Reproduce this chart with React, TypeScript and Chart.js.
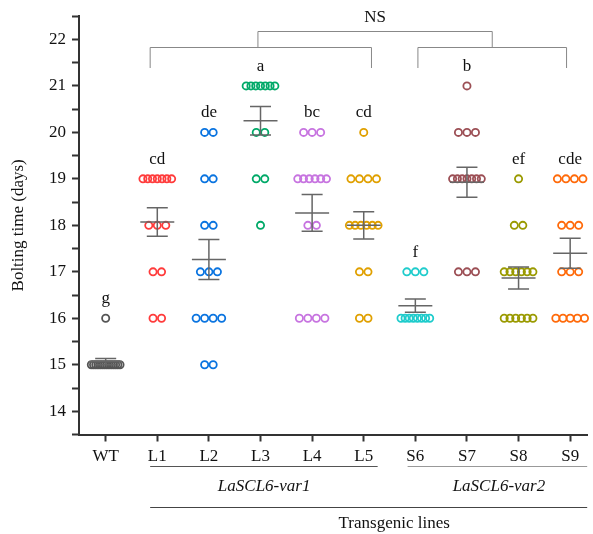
import React, { useEffect, useRef } from 'react';
import { Chart, registerables } from 'chart.js';
Chart.register(...registerables);

const categories = ['WT', 'L1', 'L2', 'L3', 'L4', 'L5', 'S6', 'S7', 'S8', 'S9'];
const colors = ['#555555', '#ff3b3b', '#0a74e0', '#00a968', '#c774e0', '#e0a000', '#1fcccc', '#9c4f55', '#9a9a00', '#ff6a0a'];
const letters = ['g', 'cd', 'de', 'a', 'bc', 'cd', 'f', 'b', 'ef', 'cde'];

const wtValues = [16, 15, 15, 15, 15, 15, 15, 15, 15, 15, 15, 15, 15, 15, 15];
const l1Values = [19, 19, 19, 19, 19, 19, 19, 18, 18, 18, 17, 17, 16, 16];
const l2Values = [20, 20, 19, 19, 18, 18, 17, 17, 17, 16, 16, 16, 16, 15, 15];
const l3Values = [21, 21, 21, 21, 21, 21, 21, 20, 20, 19, 19, 18];
const l4Values = [20, 20, 20, 19, 19, 19, 19, 19, 19, 18, 18, 16, 16, 16, 16];
const l5Values = [20, 19, 19, 19, 19, 18, 18, 18, 18, 18, 18, 17, 17, 16, 16];
const s6Values = [17, 17, 17, 16, 16, 16, 16, 16, 16, 16, 16];
const s7Values = [21, 20, 20, 20, 19, 19, 19, 19, 19, 19, 19, 17, 17, 17];
const s8Values = [19, 18, 18, 17, 17, 17, 17, 17, 17, 16, 16, 16, 16, 16, 16];
const s9Values = [19, 19, 19, 19, 18, 18, 18, 17, 17, 17, 16, 16, 16, 16, 16];
const groups = [wtValues, l1Values, l2Values, l3Values, l4Values, l5Values, s6Values, s7Values, s8Values, s9Values];

const yTickLabels = ['14', '15', '16', '17', '18', '19', '20', '21', '22'];

const FONT = '"Liberation Serif", "Times New Roman", serif';
const X_MIN = -0.517;
const X_MAX = 9.33;
const PX_PER_CAT = 52.2;

function swarm(values: number[], idx: number) {
  const rows = new Map<number, number>();
  values.forEach((v) => rows.set(v, (rows.get(v) || 0) + 1));
  const seen = new Map<number, number>();
  return values.map((v) => {
    const k = rows.get(v) || 1;
    const i = seen.get(v) || 0;
    seen.set(v, i + 1);
    const s = k > 1 ? Math.min(8.6, 29 / (k - 1)) : 0;
    const off = (i - (k - 1) / 2) * s;
    return { x: idx + off / PX_PER_CAT, y: v };
  });
}

function stats(values: number[]) {
  const n = values.length;
  const m = values.reduce((a, b) => a + b, 0) / n;
  const sd = Math.sqrt(values.reduce((a, b) => a + (b - m) * (b - m), 0) / (n - 1));
  return { mean: m, sem: sd / Math.sqrt(n) };
}

const annotPlugin = {
  id: 'annot',
  afterDatasetsDraw(chart: any) {
    const ctx = chart.ctx;
    const xs = chart.scales.x;
    const ys = chart.scales.y;
    const ca = chart.chartArea;
    ctx.save();
    // mean and SEM
    groups.forEach((vals, i) => {
      const { mean, sem } = stats(vals);
      const cx = xs.getPixelForValue(i);
      const ym = ys.getPixelForValue(mean);
      const yt = ys.getPixelForValue(mean + sem);
      const yb = ys.getPixelForValue(mean - sem);
      ctx.strokeStyle = '#666666';
      ctx.lineWidth = 1.5;
      ctx.beginPath();
      ctx.moveTo(cx - 17, ym); ctx.lineTo(cx + 17, ym);
      ctx.moveTo(cx - 10.5, yt); ctx.lineTo(cx + 10.5, yt);
      ctx.moveTo(cx - 10.5, yb); ctx.lineTo(cx + 10.5, yb);
      ctx.moveTo(cx, yt); ctx.lineTo(cx, yb);
      ctx.stroke();
      // letters
      const maxV = Math.max(...vals);
      ctx.fillStyle = '#111';
      ctx.font = `17px ${FONT}`;
      ctx.textAlign = 'center';
      ctx.textBaseline = 'middle';
      ctx.fillText(letters[i], cx, ys.getPixelForValue(maxV + 0.42));
    });
    // brackets
    const px = (v: number) => xs.getPixelForValue(v);
    ctx.strokeStyle = '#888888';
    ctx.lineWidth = 1;
    const yTop = 31.5, yBr = 47.5, yEnd = 68;
    const l0 = 0.862, l1 = 5.15, lc = 2.95;
    const r0 = 6.05, r1 = 8.93, rc = 7.49;
    ctx.beginPath();
    ctx.moveTo(px(l0), yEnd); ctx.lineTo(px(l0), yBr); ctx.lineTo(px(l1), yBr); ctx.lineTo(px(l1), yEnd);
    ctx.moveTo(px(r0), yEnd); ctx.lineTo(px(r0), yBr); ctx.lineTo(px(r1), yBr); ctx.lineTo(px(r1), yEnd);
    ctx.moveTo(px(lc), yBr); ctx.lineTo(px(lc), yTop); ctx.lineTo(px(rc), yTop); ctx.lineTo(px(rc), yBr);
    ctx.stroke();
    ctx.fillStyle = '#111';
    ctx.font = `17px ${FONT}`;
    ctx.textAlign = 'center';
    ctx.textBaseline = 'middle';
    ctx.fillText('NS', (px(lc) + px(rc)) / 2, 18);
    // bottom group annotations
    ctx.lineWidth = 1;
    ctx.strokeStyle = '#555555';
    ctx.beginPath();
    ctx.moveTo(px(0.862), 466.5); ctx.lineTo(px(5.27), 466.5);
    ctx.stroke();
    ctx.strokeStyle = '#999999';
    ctx.beginPath();
    ctx.moveTo(px(5.85), 466.5); ctx.lineTo(ca.right, 466.5);
    ctx.stroke();
    ctx.strokeStyle = '#444444';
    ctx.beginPath();
    ctx.moveTo(px(0.862), 507.5); ctx.lineTo(ca.right, 507.5);
    ctx.stroke();
    ctx.font = `italic 17px ${FONT}`;
    ctx.fillText('LaSCL6-var1', px(3.07), 487);
    ctx.fillText('LaSCL6-var2', px(7.62), 487);
    ctx.font = `17px ${FONT}`;
    ctx.fillText('Transgenic lines', px(5.59), 524);
    // y title
    ctx.translate(19, (ca.top + ca.bottom) / 2);
    ctx.rotate(-Math.PI / 2);
    ctx.fillText('Bolting time (days)', 0, 0);
    ctx.restore();
  },
};

export default function App() {
  const ref = useRef<HTMLCanvasElement>(null);
  useEffect(() => {
    if (!ref.current) return;
    const datasets = groups.map((vals, i) => ({
      label: categories[i],
      data: swarm(vals, i),
      borderColor: colors[i],
      backgroundColor: 'rgba(0,0,0,0)',
      pointRadius: 3.6,
      pointBorderWidth: 1.8,
      pointStyle: 'circle',
      showLine: false,
      clip: false as any,
    }));
    const chart = new Chart(ref.current, {
      type: 'scatter',
      data: { datasets },
      plugins: [annotPlugin],
      options: {
        animation: false,
        responsive: false,
        devicePixelRatio: 1,
        layout: { padding: { top: 12.5, right: 0, left: 0, bottom: 0 } },
        plugins: { legend: { display: false }, tooltip: { enabled: false } },
        scales: {
          x: {
            type: 'linear',
            min: X_MIN,
            max: X_MAX,
            afterBuildTicks: (scale: any) => {
              scale.ticks = categories.map((_, i) => ({ value: i }));
            },
            afterFit: (scale: any) => { scale.height = 99.5; },
            ticks: {
              callback: (v: any) => categories[Math.round(Number(v))] ?? '',
              font: { family: FONT, size: 17 },
              color: '#111',
              padding: 5,
              maxRotation: 0,
              autoSkip: false,
            },
            grid: { display: true, drawOnChartArea: false, drawTicks: true, tickLength: 7, tickWidth: 2, tickColor: '#333' },
            border: { display: true, color: '#333', width: 2 },
          },
          y: {
            type: 'linear',
            min: 13.5,
            max: 22.5,
            afterBuildTicks: (scale: any) => {
              const t: any[] = [];
              for (let k = 0; k <= 18; k++) t.push({ value: 13.5 + k * 0.5 });
              scale.ticks = t;
            },
            afterFit: (scale: any) => { scale.width = 79; },
            ticks: {
              callback: (v: any) => {
                const n = Number(v);
                if (Math.abs(n - Math.round(n)) > 0.01) return '';
                const idx = Math.round(n) - 14;
                return yTickLabels[idx] ?? '';
              },
              font: { family: FONT, size: 17 },
              color: '#111',
              padding: 6,
              autoSkip: false,
            },
            grid: { display: true, drawOnChartArea: false, drawTicks: true, tickLength: 7, tickWidth: 2, tickColor: '#333' },
            border: { display: true, color: '#333', width: 2 },
          },
        },
      },
    });
    return () => chart.destroy();
  }, []);
  return (
    <div style={{ position: 'fixed', left: 0, top: 0, width: 593, height: 534, background: '#fff' }}>
      <canvas ref={ref} width={593} height={534} style={{ width: 593, height: 534 }} />
    </div>
  );
}
